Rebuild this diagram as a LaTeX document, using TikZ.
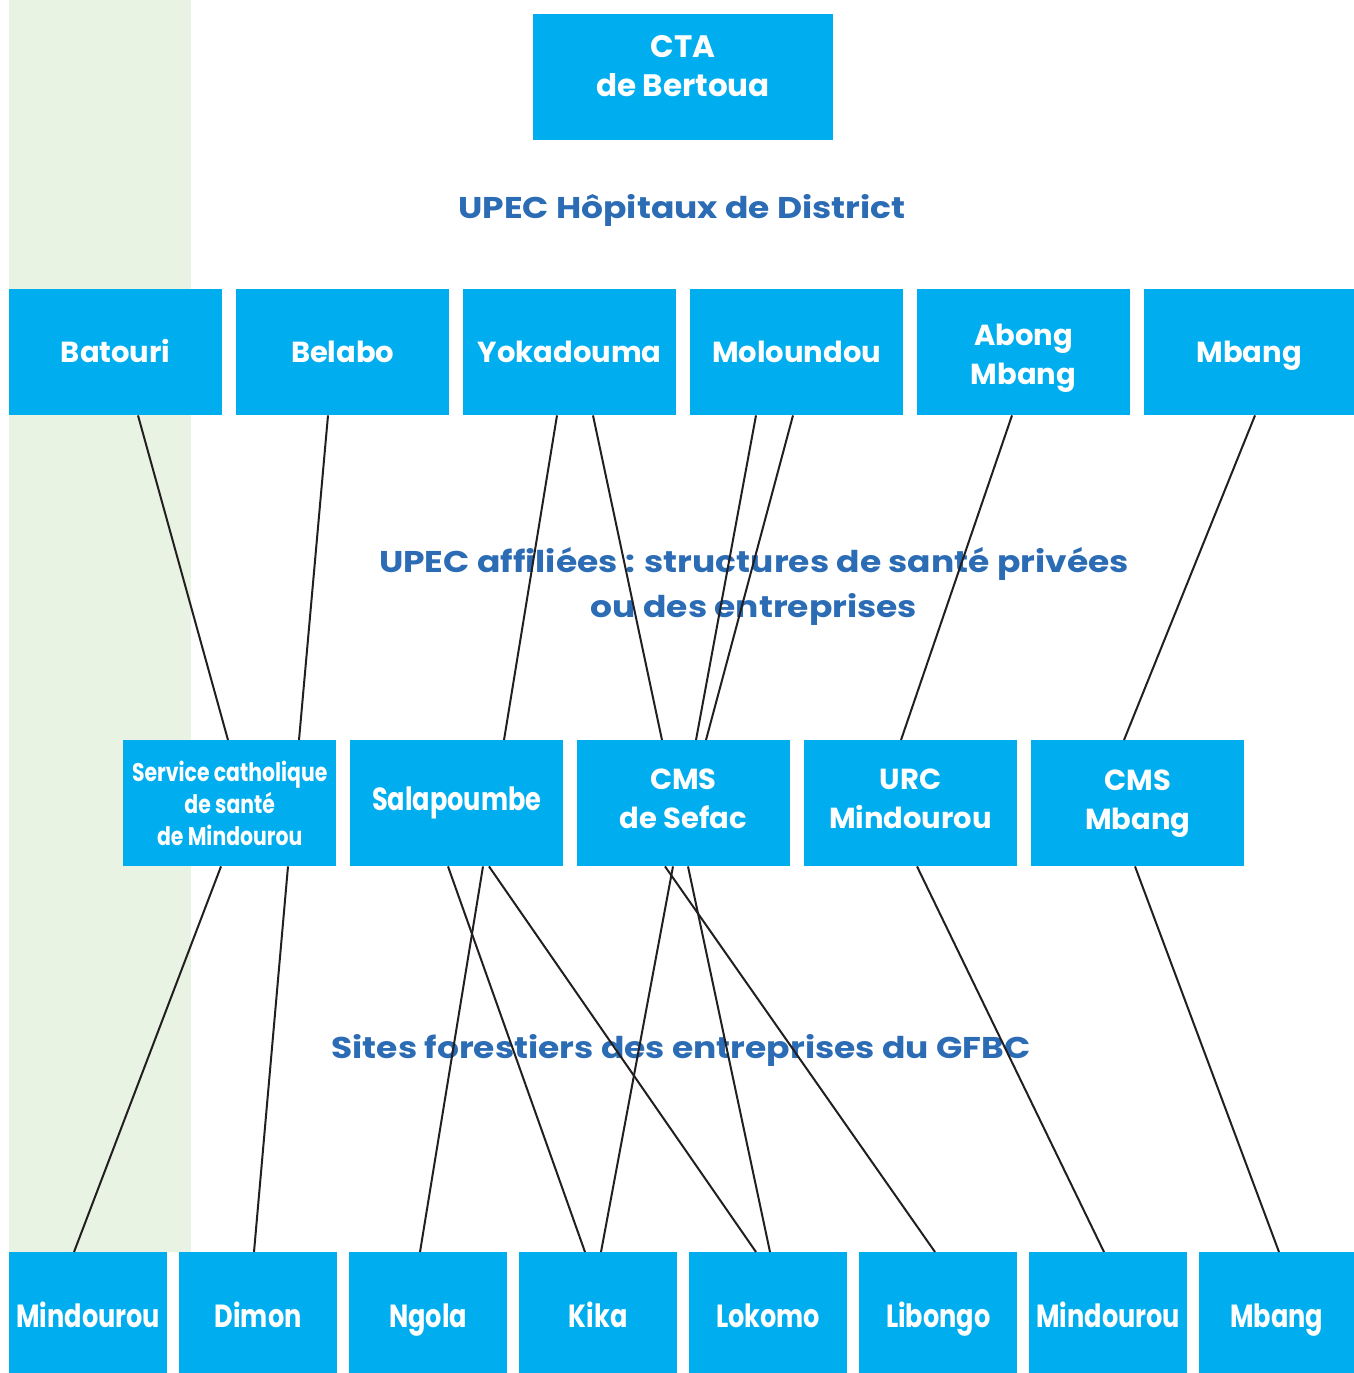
\documentclass[tikz,border=0pt]{standalone}
\usepackage{fontspec}
\setmainfont{Poppins}
\newfontfamily\wideF[FakeStretch=1.15]{Poppins}
\newfontfamily\condF[FakeStretch=0.8]{Poppins}
\definecolor{boxcyan}{HTML}{00AEEF}
\definecolor{bandgreen}{HTML}{E8F3E3}
\definecolor{titleblue}{HTML}{2B6CB5}
\definecolor{linegray}{HTML}{231F20}
\begin{document}
\begin{tikzpicture}[x=1pt,y=-1pt,
  bx/.style={fill=boxcyan, draw=none, text=white, inner sep=0pt, align=center,
    font=\fontsize{29}{39}\selectfont\bfseries, anchor=north west},
  oneline/.style={text height=22pt, text depth=1pt},
  bottomline/.style={text height=30pt, text depth=1pt},
  condtxt/.style={font=\condF\fontsize{32}{39}\selectfont\bfseries},
  smalltxt/.style={font=\condF\fontsize{25.5}{32}\selectfont\bfseries},
  wtxt/.style={text=white, align=center, font=\fontsize{29}{39}\selectfont\bfseries},
  ttl/.style={text=titleblue, font=\wideF\fontsize{30}{45}\selectfont\bfseries, align=center},
  ln/.style={draw=linegray, line width=2pt}]
\useasboundingbox (0,0) rectangle (1354,1373);
\fill[bandgreen] (9,0) rectangle (191,1252);
% top
\node[bx, minimum width=300pt, minimum height=126pt] (cta) at (533,14) {};
\node[wtxt, font=\fontsize{31}{39}\selectfont\bfseries] (ctalabel) at (683,66) {CTA\\de Bertoua};
\node[ttl] (t1) at (682,210) {UPEC Hôpitaux de District};
% row 1
\foreach \nm/\x/\w/\lab in {batouri/9/213/Batouri, belabo/236/213/Belabo, yoka/463/213/Yokadouma,
  molo/690/213/Moloundou, mbang/1144/210/Mbang}
  \node[bx, oneline, minimum width=\w pt, minimum height=126pt] (\nm) at (\x,289) {\lab};
\node[bx, minimum width=213pt, minimum height=126pt] (abong) at (917,289) {};
\node[wtxt] (abonglabel) at (1023.5,358) {Abong\\Mbang};
\node[ttl] (t2) at (754,586) {UPEC affiliées : structures de santé privées\\ou des entreprises};
% row 2
\node[bx, minimum width=213pt, minimum height=126pt, smalltxt] (scs) at (123,740) {Service catholique\\de santé\\de Mindourou};
\node[bx, minimum width=213pt, minimum height=126pt, condtxt] (sala) at (350,740) {Salapoumbe};
\node[bx, minimum width=213pt, minimum height=126pt] (sefac) at (577,740) {};
\node[wtxt] (sefaclabel) at (683.5,799) {CMS\\de Sefac};
\node[bx, minimum width=213pt, minimum height=126pt] (urc) at (804,740) {};
\node[wtxt] (urclabel) at (910.5,799) {URC\\Mindourou};
\node[bx, minimum width=213pt, minimum height=126pt] (cmsm) at (1031,740) {CMS\\Mbang};
\node[ttl] (t3) at (681,1050) {Sites forestiers des entreprises du GFBC};
% row 3
\foreach \nm/\x/\w/\lab in {mind/9/158/Mindourou, dimon/179/158/Dimon, ngola/349/158/Ngola, kika/519/158/Kika,
  lokomo/689/158/Lokomo, libongo/859/158/Libongo, mindb/1029/158/Mindourou, mbangb/1199/155/Mbang}
  \node[bx, bottomline, minimum width=\w pt, minimum height=121pt, condtxt] (\nm) at (\x,1252) {\lab};
% connectors row1 -> row2
\draw[ln] ([xshift=129pt]batouri.south west) -- ([xshift=105pt]scs.north west);
\draw[ln] ([xshift=92pt]belabo.south west) -- ([xshift=176pt]scs.north west);
\draw[ln] ([xshift=94pt]yoka.south west) -- ([xshift=154pt]sala.north west);
\draw[ln] ([xshift=130pt]yoka.south west) -- ([xshift=85pt]sefac.north west);
\draw[ln] ([xshift=66pt]molo.south west) -- ([xshift=119pt]sefac.north west);
\draw[ln] ([xshift=103pt]molo.south west) -- ([xshift=129pt]sefac.north west);
\draw[ln] ([xshift=95pt]abong.south west) -- ([xshift=97pt]urc.north west);
\draw[ln] ([xshift=111pt]mbang.south west) -- ([xshift=93pt]cmsm.north west);
% connectors row2 -> row3
\draw[ln] ([xshift=98pt]scs.south west) -- ([xshift=65pt]mind.north west);
\draw[ln] ([xshift=165pt]scs.south west) -- ([xshift=75pt]dimon.north west);
\draw[ln] ([xshift=133pt]sala.south west) -- ([xshift=71pt]ngola.north west);
\draw[ln] ([xshift=98pt]sala.south west) -- ([xshift=66pt]kika.north west);
\draw[ln] ([xshift=139pt]sala.south west) -- ([xshift=67pt]lokomo.north west);
\draw[ln] ([xshift=96pt]sefac.south west) -- ([xshift=82pt]kika.north west);
\draw[ln] ([xshift=111pt]sefac.south west) -- ([xshift=81pt]lokomo.north west);
\draw[ln] ([xshift=88pt]sefac.south west) -- ([xshift=76pt]libongo.north west);
\draw[ln] ([xshift=113pt]urc.south west) -- ([xshift=75pt]mindb.north west);
\draw[ln] ([xshift=104pt]cmsm.south west) -- ([xshift=80pt]mbangb.north west);
\end{tikzpicture}
\end{document}
